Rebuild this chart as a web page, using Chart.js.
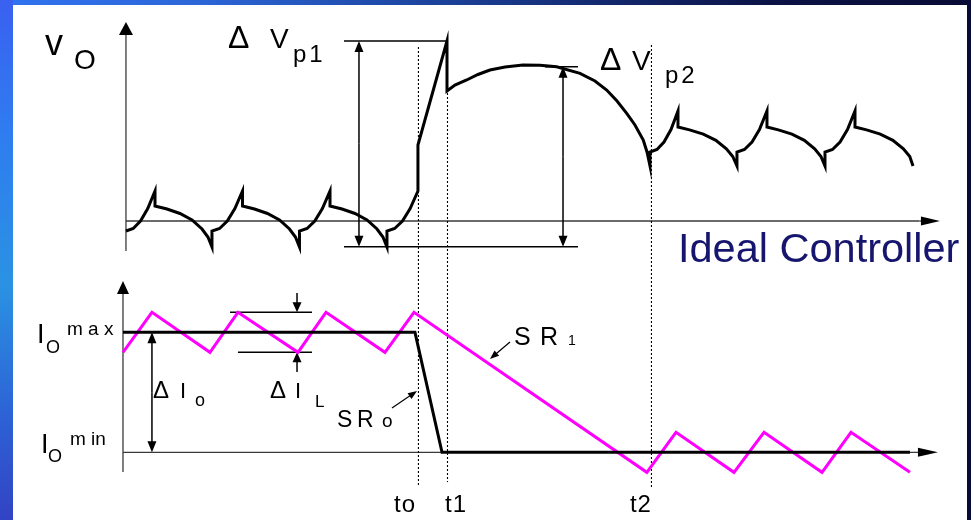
<!DOCTYPE html>
<html>
<head>
<meta charset="utf-8">
<script src="https://cdn.jsdelivr.net/npm/chart.js@4.4.0/dist/chart.umd.min.js"></script>
<style>
  html, body { margin: 0; padding: 0; }
  body {
    width: 971px; height: 520px; overflow: hidden; position: relative;
    background: linear-gradient(90deg, #3072f0 0%, #2c66d8 20%, #1f4aa8 40%, #13286e 62%, #0b1244 80%, #080b34 100%);
  }
  #edge {
    position: absolute; left: 0; top: 0; width: 13px; height: 520px;
    background: linear-gradient(180deg, #3a60f0 0%, #2f7cf0 25%, #2a92e2 55%, #2d62d6 80%, #3243c4 100%);
  }
  #panel { position: absolute; left: 13px; top: 5px; width: 954px; height: 515px; background: #fff; }
</style>
</head>
<body>
<div id="edge"></div>
<div id="panel"><canvas id="waveChart" width="954" height="515"></canvas></div>
<script>
// time in switching periods, 0 = current axis
const T_MIN = -1.257, T_MAX = 9.646;
// output voltage, arbitrary units
const V_MIN = -29.9, V_MAX = 21.6;
// load / inductor current, Io max - Io min = 1
const I_MIN = -0.564, I_MAX = 3.7275;

// output voltage v_O
const voTime = [
  0.034, 0.117, 0.2, 0.283, 0.366, 0.366, 0.503, 0.651, 0.789, 0.903, 0.971, 1.017, 1.017,
  1.104, 1.192, 1.279, 1.366, 1.366, 1.503, 1.651, 1.789, 1.903, 1.971, 2.017, 2.017,
  2.104, 2.192, 2.279, 2.366, 2.366, 2.503, 2.651, 2.789, 2.903, 2.971, 3.017, 3.017,
  3.105, 3.194, 3.282, 3.371, 3.371, 3.703, 3.703,
  3.794, 3.928, 4.057, 4.194, 4.366, 4.571, 4.766, 4.957, 5.223, 5.394, 5.528, 5.646,
  5.757, 5.851, 5.946, 5.989, 6.023, 6.023,
  6.103, 6.183, 6.263, 6.343, 6.343, 6.475, 6.632, 6.776, 6.896, 6.969, 7.017, 7.017,
  7.103, 7.189, 7.274, 7.36, 7.36, 7.49, 7.645, 7.787, 7.905, 7.977, 8.023, 8.023,
  8.109, 8.195, 8.28, 8.366, 8.366, 8.498, 8.655, 8.799, 8.919, 8.992, 9.029
];
const voValue = [
  -1.0, -0.75, 0.0, 1.25, 3.0, 1.5, 1.2, 0.75, 0.1, -0.8, -1.6, -2.6, -1.0,
  -0.75, 0.0, 1.25, 3.0, 1.5, 1.2, 0.75, 0.1, -0.8, -1.6, -2.6, -1.0,
  -0.75, 0.0, 1.25, 3.0, 1.5, 1.2, 0.75, 0.1, -0.8, -1.6, -2.6, -1.0,
  -0.75, 0.0, 1.25, 3.0, 7.6, 18.0, 13.0,
  13.6, 14.1, 14.65, 15.1, 15.4, 15.6, 15.57, 15.43, 14.77, 14.0, 13.1, 12.0,
  10.77, 9.6, 8.1, 6.9, 5.5, 6.9,
  7.15, 7.9, 9.15, 11.0, 9.4, 9.11, 8.69, 8.07, 7.21, 6.45, 5.5, 6.9,
  7.15, 7.9, 9.15, 11.0, 9.4, 9.11, 8.69, 8.07, 7.21, 6.45, 5.5, 6.9,
  7.15, 7.9, 9.15, 11.0, 9.4, 9.11, 8.69, 8.07, 7.21, 6.45, 5.5
];

// load current step Io max -> Io min
const ioTime = [0, 3.337, 3.646, 8.994];
const ioValue = [1, 1, 0, 0];

// inductor current ripple
const iLTime = [0, 0.331, 0.994, 1.314, 2.0, 2.32, 2.994, 3.326, 5.987, 6.32, 6.983, 7.326, 7.989, 8.32, 8.994];
const iLValue = [0.833, 1.167, 0.833, 1.167, 0.833, 1.167, 0.833, 1.167, -0.167, 0.167, -0.167, 0.167, -0.167, 0.167, -0.167];

// event markers
const markNames = ["to", "t1", "t2"];
const markTimes = [3.371, 3.703, 6.034];
const markTop = [17.4, 18.0, 17.6];          // on the v scale
const markBottom = [-0.289, -0.248, -0.289]; // on the i scale

const FONT = "'Liberation Sans', Arial, sans-serif";

// [text, t, y, scale, size, colour, letter spacing]
const labels = [
  ["v", -0.891, 16.6, "yv", 36],
  ["O", -0.56, 15.2, "yv", 28],
  ["\u0394", 1.2, 17.3, "yv", 32],
  ["V", 1.68, 17.3, "yv", 28],
  ["p1", 1.943, 15.9, "yv", 24, null, 3],
  ["\u0394", 5.451, 15.1, "yv", 32],
  ["V", 5.817, 15.1, "yv", 28],
  ["p2", 6.194, 13.8, "yv", 24, null, 3],
  ["Ideal Controller", 6.343, -4.1, "yv", 41.5, "#16166e"],
  ["I", -0.983, 0.911, "yi", 27],
  ["O", -0.88, 0.828, "yi", 18],
  ["m a x", -0.64, 0.978, "yi", 19],
  ["I", -0.937, -0.006, "yi", 27],
  ["O", -0.857, -0.081, "yi", 18],
  ["m in", -0.606, 0.061, "yi", 19],
  ["\u0394", 0.343, 0.453, "yi", 24],
  ["I", 0.651, 0.453, "yi", 22],
  ["o", 0.823, 0.386, "yi", 18],
  ["\u0394", 1.68, 0.453, "yi", 24],
  ["I", 1.966, 0.453, "yi", 22],
  ["L", 2.194, 0.378, "yi", 17],
  ["S", 2.446, 0.211, "yi", 23],
  ["R", 2.674, 0.211, "yi", 23],
  ["o", 2.96, 0.211, "yi", 19],
  ["S", 4.469, 0.894, "yi", 25],
  ["R", 4.766, 0.894, "yi", 25],
  ["1", 5.086, 0.894, "yi", 14],
  [markNames[0], 3.097, -0.498, "yi", 24, null, 1],
  [markNames[1], 3.68, -0.498, "yi", 24, null, 1],
  [markNames[2], 5.794, -0.498, "yi", 24, null, 1]
];

const pts = (xs, ys) => xs.map((x, k) => ({ x: x, y: ys[k] }));

function arrow(ctx, x1, y1, x2, y2, len, half) {
  const a = Math.atan2(y2 - y1, x2 - x1);
  const c = Math.cos(a), s = Math.sin(a);
  ctx.beginPath();
  ctx.moveTo(x1, y1);
  ctx.lineTo(x2 - c * len * 0.6, y2 - s * len * 0.6);
  ctx.stroke();
  ctx.beginPath();
  ctx.moveTo(x2, y2);
  ctx.lineTo(x2 - len * c + half * s, y2 - len * s - half * c);
  ctx.lineTo(x2 - len * c - half * s, y2 - len * s + half * c);
  ctx.closePath();
  ctx.fill();
}

function line(ctx, x1, y1, x2, y2) {
  ctx.beginPath();
  ctx.moveTo(x1, y1);
  ctx.lineTo(x2, y2);
  ctx.stroke();
}

const annotate = {
  id: "annotate",
  beforeDatasetsDraw(chart) {
    const ctx = chart.ctx;
    const X = v => chart.scales.x.getPixelForValue(v);
    const V = v => chart.scales.yv.getPixelForValue(v);
    const I = v => chart.scales.yi.getPixelForValue(v);
    ctx.save();

    // axes
    ctx.strokeStyle = "#3a3a3a";
    ctx.fillStyle = "#000";
    ctx.lineWidth = 1.3;
    line(ctx, X(0.034), V(-3.0), X(0.034), V(18.6));
    arrow(ctx, X(0.034), V(18.6), X(0.034), V(19.9), 13, 7);
    line(ctx, X(0.034), V(0), X(9.1), V(0));
    arrow(ctx, X(9.1), V(0), X(9.337), V(0), 19, 4.5);
    line(ctx, X(0), I(-0.164), X(0), I(1.32));
    arrow(ctx, X(0), I(1.32), X(0), I(1.4275), 13, 6);
    line(ctx, X(0), I(0), X(9.1), I(0));
    arrow(ctx, X(9.1), I(0), X(9.314), I(0), 20, 4.5);

    // event markers
    ctx.strokeStyle = "#000";
    ctx.lineWidth = 1.1;
    ctx.setLineDash([2, 2]);
    markTimes.forEach((t, k) => line(ctx, X(t) + 0.5, V(markTop[k]), X(t) + 0.5, I(markBottom[k])));
    ctx.setLineDash([]);

    // peak deviation dimensions
    ctx.lineWidth = 1.5;
    line(ctx, X(2.526), V(18.0), X(3.703), V(18.0));
    line(ctx, X(2.526), V(-2.57), X(5.2), V(-2.57));
    line(ctx, X(4.823), V(15.43), X(5.2), V(15.43));
    const p1 = X(2.697), p2 = X(5.029);
    const vm = (V(18.0) + V(-2.57)) / 2, vm2 = (V(15.43) + V(-2.57)) / 2;
    arrow(ctx, p1, vm, p1, V(18.0), 11, 4.5);
    arrow(ctx, p1, vm, p1, V(-2.57), 11, 4.5);
    arrow(ctx, p2, vm2, p2, V(15.43), 11, 4.5);
    arrow(ctx, p2, vm2, p2, V(-2.57), 11, 4.5);

    // current dimensions
    const im = (I(1) + I(0)) / 2;
    arrow(ctx, X(0.331), im, X(0.331), I(1), 11, 4.5);
    arrow(ctx, X(0.331), im, X(0.331), I(0), 11, 4.5);
    line(ctx, X(1.223), I(1.167), X(2.16), I(1.167));
    line(ctx, X(1.314), I(0.833), X(2.16), I(0.833));
    arrow(ctx, X(1.989), I(1.3275), X(1.989), I(1.167), 10, 4.5);
    arrow(ctx, X(1.989), I(0.669), X(1.989), I(0.833), 10, 4.5);

    // slew-rate pointers
    ctx.lineWidth = 1.2;
    arrow(ctx, X(3.074), I(0.369), X(3.36), I(0.511), 9, 3.5);
    arrow(ctx, X(4.423), I(0.919), X(4.194), I(0.778), 9, 3.5);
    ctx.restore();
  },
  afterDatasetsDraw(chart) {
    const ctx = chart.ctx;
    ctx.save();
    ctx.textAlign = "left";
    ctx.textBaseline = "alphabetic";
    labels.forEach(([text, t, y, axis, size, colour, spacing]) => {
      ctx.font = size + "px " + FONT;
      ctx.fillStyle = colour || "#000";
      ctx.letterSpacing = (spacing || 0) + "px";
      ctx.fillText(text, chart.scales.x.getPixelForValue(t), chart.scales[axis].getPixelForValue(y));
    });
    ctx.restore();
  }
};

const chart = new Chart(document.getElementById("waveChart"), {
  type: "scatter",
  data: {
    datasets: [
      { data: pts(ioTime, ioValue), yAxisID: "yi", showLine: true, borderColor: "#000", borderWidth: 3, pointRadius: 0 },
      { data: pts(iLTime, iLValue), yAxisID: "yi", showLine: true, borderColor: "#ff00ff", borderWidth: 3, pointRadius: 0 },
      { data: pts(voTime, voValue), yAxisID: "yv", showLine: true, borderColor: "#000", borderWidth: 3, pointRadius: 0 }
    ]
  },
  options: {
    responsive: false,
    animation: false,
    layout: { padding: 0 },
    scales: {
      x: { type: "linear", min: T_MIN, max: T_MAX, display: false },
      yv: { type: "linear", position: "left", min: V_MIN, max: V_MAX, display: false },
      yi: { type: "linear", position: "left", min: I_MIN, max: I_MAX, display: false }
    },
    plugins: { legend: { display: false }, tooltip: { enabled: false } }
  },
  plugins: [annotate]
});
</script>
</body>
</html>
